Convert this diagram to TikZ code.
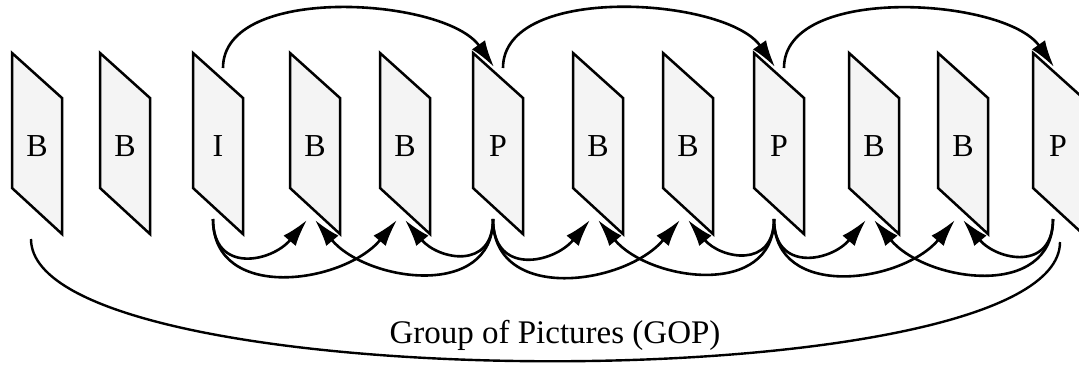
\documentclass[tikz,border=0pt]{standalone}
\usepackage{fontspec}
\setmainfont{Liberation Serif}
\usetikzlibrary{arrows.meta}

\tikzset{
  frame/.style={draw, fill=gray!9, line width=2.5pt, line join=miter},
  lbl/.style={font=\fontsize{32}{36}\selectfont, inner sep=0pt},
  link/.style={->, line width=2.6pt},
  hop/.style={out=90, in=125, looseness=.8},
  fwshort/.style={out=-90, in=-130, looseness=1.5},
  fwlong/.style={out=-90, in=-130, looseness=1.16},
  bwshort/.style={out=-90, in=-50, looseness=1.5},
  bwlong/.style={out=-90, in=-50, looseness=1.16}
}

\begin{document}
\begin{tikzpicture}[x=1pt, y=1pt, >={Latex[length=27pt,width=16pt]}]
   \useasboundingbox (0,0) rectangle (1079,-365);

   \foreach \n/\x/\t in {b1/12/B, b2/100/B, i/193/I, b3/290/B, b4/380/B, p1/473/P,
                         b5/573/B, b6/663/B, p2/754/P, b7/849/B, b8/938/B, p3/1033/P} {
      \draw[frame] (\x,-53) -- (\x+50,-98) -- (\x+50,-234) -- (\x,-188) -- cycle;
      \node[lbl] (\n) at (\x+25,-146) {\t};
      \coordinate (\n-in) at (\x+21,-67);
      \coordinate (\n-out) at (\x+30,-68);
      \coordinate (\n-src) at (\x+20,-219);
      \coordinate (\n-fw) at (\x+17,-220);
      \coordinate (\n-bw) at (\x+25,-220);
   }
   \coordinate (gop-l) at (31,-239);
   \coordinate (gop-r) at (1060,-242);

   \draw[link] (i-out) to[hop] (p1-in);
   \draw[link] (p1-out) to[hop] (p2-in);
   \draw[link] (p2-out) to[hop] (p3-in);

   \draw[link] (i-src) to[fwshort] (b3-fw);
   \draw[link] (i-src) to[fwlong] (b4-fw);
   \draw[link] (p1-src) to[bwshort] (b4-bw);
   \draw[link] (p1-src) to[bwlong] (b3-bw);
   \draw[link] (p1-src) to[fwshort] (b5-fw);
   \draw[link] (p1-src) to[fwlong] (b6-fw);
   \draw[link] (p2-src) to[bwshort] (b6-bw);
   \draw[link] (p2-src) to[bwlong] (b5-bw);
   \draw[link] (p2-src) to[fwshort] (b7-fw);
   \draw[link] (p2-src) to[fwlong] (b8-fw);
   \draw[link] (p3-src) to[bwshort] (b8-bw);
   \draw[link] (p3-src) to[bwlong] (b7-bw);

   \draw[line width=2.4pt] (gop-l) .. controls +(0,-161) and +(0,-161) .. (gop-r);
   \node[font=\fontsize{33}{38}\selectfont] (gop) at (555,-335) {Group of Pictures (GOP)};
\end{tikzpicture}
\end{document}
